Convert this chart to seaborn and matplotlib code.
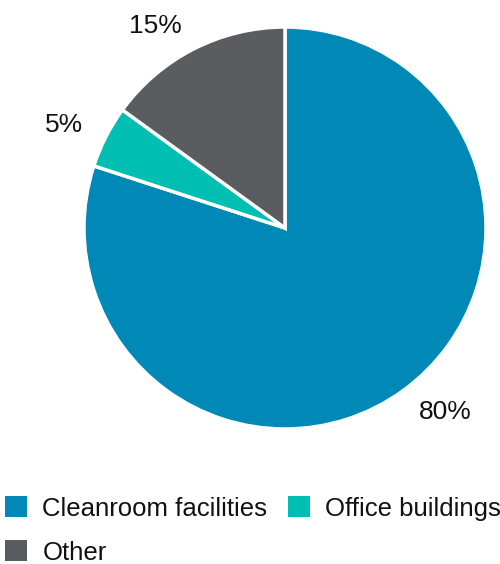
import matplotlib
matplotlib.use("Agg")
import matplotlib.pyplot as plt
import seaborn as sns
import numpy as np
from matplotlib.patches import Patch

categories = ["Cleanroom facilities", "Office buildings", "Other"]
values = [80, 5, 15]
colors = ["#0088B6", "#00BFB2", "#5B5C60"]

sns.set_theme(style="white")
plt.rcParams["font.family"] = ["Liberation Sans", "DejaVu Sans"]

fig = plt.figure(figsize=(5.0, 5.64), dpi=100)
ax = fig.add_axes([84 / 500, (564 - 429) / 564, 402 / 500, 402 / 564])
wedges, texts, autotexts = ax.pie(
    values,
    colors=colors,
    startangle=90,
    counterclock=False,
    autopct=lambda p: f"{p:.0f}%",
    pctdistance=1.13,
    wedgeprops=dict(edgecolor="white", linewidth=2.5),
    textprops=dict(fontsize=19, color="#111111"),
)
for w, t in zip(wedges, autotexts):
    ang = np.deg2rad((w.theta1 + w.theta2) / 2)
    x, y = 1.13 * np.cos(ang), 1.13 * np.sin(ang)
    t.set_position((x, y))
    t.set_ha("left" if x > 0 else "right")
    t.set_va("center")
    t.set_clip_on(False)
ax.set_xlim(-1, 1)
ax.set_ylim(-1, 1)
ax.set_aspect("equal")
ax.axis("off")

order = [0, 2, 1]
handles = [Patch(facecolor=colors[i], edgecolor="none") for i in order]
labels = [categories[i] for i in order]
fig.legend(
    handles, labels,
    loc="lower left", bbox_to_anchor=(0.0, -0.01),
    ncol=2, frameon=False, fontsize=18.5, labelcolor="#111111",
    handlelength=0.85, handleheight=0.85, handletextpad=0.6,
    columnspacing=0.8, labelspacing=0.77, borderaxespad=0.0,
    borderpad=0.2,
)

fig.savefig("out.png", dpi=100)
